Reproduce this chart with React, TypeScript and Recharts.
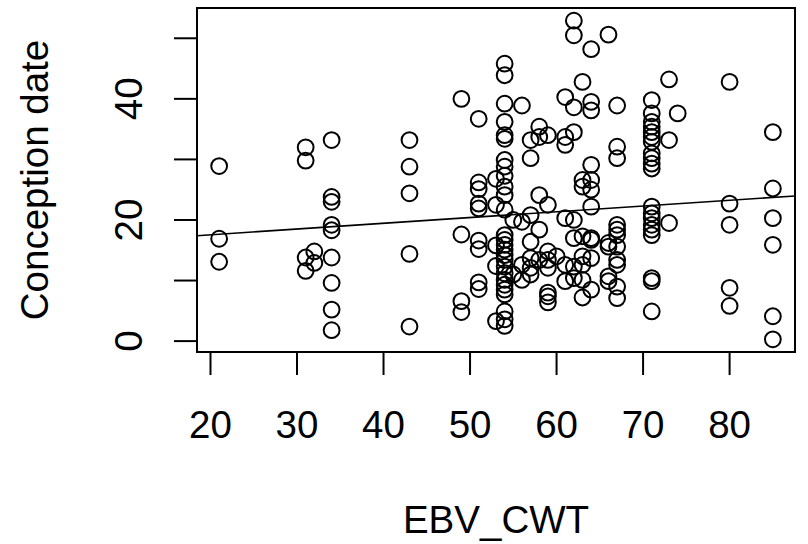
import React from "react";
import {
  ScatterChart,
  Scatter,
  XAxis,
  YAxis,
  ReferenceArea,
  ReferenceLine,
} from "recharts";

const FONT = "'Liberation Sans', Arial, Helvetica, sans-serif";
const FONT_SIZE = 38.5;

// EBV_CWT value for each column of points
const ebvCwt = [21, 31, 32, 34, 43, 49, 51, 53, 54, 55, 56, 57, 58, 59, 60, 61, 62, 63, 64, 66, 67, 71, 73, 74, 80, 85];

const conceptionDates = [
  [28.9, 16.9, 13.1],
  [32.0, 29.8, 13.8, 11.6],
  [14.8, 12.9],
  [33.2, 23.8, 23.0, 19.2, 18.3, 13.8, 9.6, 5.2, 1.8],
  [33.2, 28.8, 24.4, 14.4, 2.4],
  [40.0, 17.6, 6.6, 4.8],
  [36.7, 26.2, 25.1, 22.7, 21.9, 16.6, 15.2, 9.7, 8.6],
  [26.8, 22.5, 15.8, 12.4, 3.3],
  [45.8, 43.9, 39.2, 36.2, 34.0, 33.4, 29.9, 28.8, 27.3, 25.5, 24.1, 21.7, 17.5, 16.7, 15.9, 15.1, 14.2, 13.4, 12.3, 11.2, 10.1, 9.3, 8.5, 7.7, 4.9, 3.6, 2.5],
  [20.0, 11.0],
  [38.9, 19.7, 12.6, 10.1],
  [33.2, 30.2, 20.8, 16.4, 13.7, 12.1, 11.0],
  [35.4, 33.7, 24.1, 18.4, 13.4],
  [34.0, 22.5, 14.8, 13.4, 12.1, 8.0, 7.4, 6.4],
  [14.0],
  [40.3, 33.7, 32.4, 20.3, 12.6, 9.9],
  [52.9, 50.5, 38.6, 34.5, 20.0, 17.0, 12.3, 10.4],
  [42.8, 26.6, 25.5, 17.3, 14.0, 12.6, 10.1, 7.2],
  [48.2, 39.5, 38.1, 29.1, 26.6, 25.0, 22.2, 17.0, 16.7, 13.7, 8.5],
  [50.6, 16.2, 15.6, 10.7, 9.9],
  [38.9, 32.1, 30.2, 19.2, 18.4, 17.5, 15.6, 13.4, 12.6, 9.0, 7.1],
  [39.8, 37.6, 36.2, 35.4, 34.5, 33.7, 32.9, 31.0, 30.2, 29.3, 28.5, 22.2, 21.1, 20.3, 19.2, 18.4, 17.5, 10.4, 9.9, 4.9],
  [43.2, 33.2, 19.5],
  [37.6],
  [42.8, 22.7, 19.2, 8.8, 5.8],
  [34.5, 25.2, 20.3, 15.9, 4.1, 0.3],
];

const xTicks = [20, 30, 40, 50, 60, 70, 80];
const yTicks = [0, 10, 20, 30, 40, 50];

// fitted line (lm)
const fitIntercept = 15.65;
const fitSlope = 0.095;

// R's default 4% padding around the data range
const xDomain = [18.44, 87.56];
const yDomain = [-1.8, 55.0];

const points = ebvCwt.flatMap((x, i) => conceptionDates[i].map((y) => ({ x, y })));

const OpenCircle = (props: any) => (
  <circle cx={props.cx} cy={props.cy} r={7.9} fill="none" stroke="#000" strokeWidth={2} />
);

const XTick = ({ x, y, payload }: any) => (
  <text x={x} y={y} dy="0.71em" textAnchor="middle" fontSize={FONT_SIZE} fontFamily={FONT} fill="#000">
    {payload.value}
  </text>
);

// R drops the labels that would collide, so only every other tick is labelled
const YTick = ({ x, y, payload }: any) =>
  payload.value % 20 === 0 ? (
    <text
      x={x}
      y={y}
      transform={`rotate(-90, ${x}, ${y})`}
      textAnchor="middle"
      fontSize={FONT_SIZE}
      fontFamily={FONT}
      fill="#000"
    >
      {payload.value}
    </text>
  ) : (
    <g />
  );

export default function App() {
  return (
    <div style={{ position: "absolute", left: 0, top: 0, width: 808, height: 544, background: "#fff" }}>
      <ScatterChart width={808} height={544} margin={{ top: 8, right: 13, left: 0, bottom: 0 }}>
        <XAxis
          type="number"
          dataKey="x"
          domain={xDomain}
          ticks={xTicks}
          allowDataOverflow
          height={192}
          axisLine={false}
          tickLine={{ stroke: "#000", strokeWidth: 2 }}
          tickSize={23}
          tickMargin={36}
          tick={<XTick />}
          label={({ viewBox }: any) => (
            <text
              x={viewBox.x + viewBox.width / 2}
              y={viewBox.y + 181}
              textAnchor="middle"
              fontSize={FONT_SIZE}
              fontFamily={FONT}
              fill="#000"
            >
              EBV_CWT
            </text>
          )}
        />
        <YAxis
          type="number"
          dataKey="y"
          domain={yDomain}
          ticks={yTicks}
          allowDataOverflow
          width={197}
          axisLine={false}
          tickLine={{ stroke: "#000", strokeWidth: 2 }}
          tickSize={23}
          tickMargin={32}
          tick={<YTick />}
          label={({ viewBox }: any) => {
            const cx = viewBox.x + 48;
            const cy = viewBox.y + viewBox.height / 2;
            return (
              <text
                x={cx}
                y={cy}
                transform={`rotate(-90, ${cx}, ${cy})`}
                textAnchor="middle"
                fontSize={FONT_SIZE}
                fontFamily={FONT}
                fill="#000"
              >
                Conception date
              </text>
            );
          }}
        />
        <ReferenceArea
          x1={xDomain[0]}
          x2={xDomain[1]}
          y1={yDomain[0]}
          y2={yDomain[1]}
          fill="none"
          stroke="#000"
          strokeWidth={2}
          fillOpacity={0}
        />
        <ReferenceLine
          segment={[
            { x: xDomain[0], y: fitIntercept + fitSlope * xDomain[0] },
            { x: xDomain[1], y: fitIntercept + fitSlope * xDomain[1] },
          ]}
          stroke="#000"
          strokeWidth={1.6}
        />
        <Scatter data={points} shape={<OpenCircle />} isAnimationActive={false} />
      </ScatterChart>
    </div>
  );
}
